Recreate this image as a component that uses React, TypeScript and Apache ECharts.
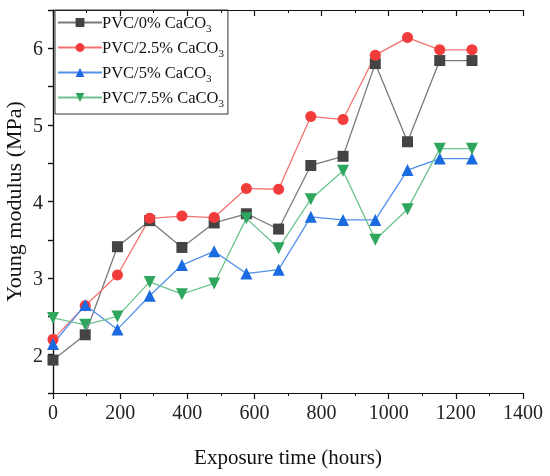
import React, { useEffect, useRef } from "react";
import * as echarts from "echarts";

const hours = [0, 96, 192, 288, 384, 480, 576, 672, 768, 864, 960, 1056, 1152, 1248];
const pvc0 = [1.93, 2.26, 3.41, 3.75, 3.4, 3.72, 3.84, 3.64, 4.47, 4.59, 5.8, 4.78, 5.84, 5.84];
const pvc25 = [2.2, 2.64, 3.04, 3.78, 3.81, 3.79, 4.17, 4.16, 5.11, 5.07, 5.91, 6.14, 5.98, 5.98];
const pvc5 = [2.14, 2.65, 2.33, 2.77, 3.17, 3.35, 3.06, 3.11, 3.8, 3.76, 3.76, 4.41, 4.56, 4.56];
const pvc75 = [2.48, 2.39, 2.5, 2.95, 2.79, 2.93, 3.78, 3.39, 4.03, 4.4, 3.5, 3.9, 4.69, 4.69];
const seriesNames = ["PVC/0% CaCO3", "PVC/2.5% CaCO3", "PVC/5% CaCO3", "PVC/7.5% CaCO3"];
const yTickLabels = [2, 3, 4, 5, 6];

const FONT = "Liberation Serif";

export default function App() {
  const ref = useRef<HTMLDivElement>(null);
  useEffect(() => {
    if (!ref.current) return;
    const chart = echarts.init(ref.current, undefined, { renderer: "svg" });
    const mk = (name: string, data: number[], symbol: string, rotate: number, mColor: string, lColor: string, size: number) => ({
      name,
      type: "line",
      data: hours.map((h, i) => [h, data[i]]),
      symbol,
      symbolRotate: rotate,
      symbolSize: size,
      itemStyle: { color: mColor },
      lineStyle: { color: lColor, width: 1.3 },
      emphasis: { disabled: true },
    });
    const axisLine = { show: true, lineStyle: { color: "#111", width: 1.2 } };
    chart.setOption({
      animation: false,
      grid: { left: 53, top: 10, right: 27, bottom: 83, containLabel: false, outerBoundsMode: "none" },
      legend: {
        orient: "vertical",
        left: 55,
        top: 10,
        borderColor: "#333",
        borderWidth: 1,
        padding: [4, 4, 6, 2],
        itemGap: 6,
        itemWidth: 44,
        itemHeight: 11,
        data: seriesNames,
        formatter: (n: string) => n.replace(/3$/, "") + "{sub|3}",
        textStyle: {
          fontFamily: FONT,
          fontSize: 16.5,
          color: "#111",
          padding: [0, 0, 0, -5],
          rich: { sub: { fontFamily: FONT, fontSize: 11, color: "#111", verticalAlign: "bottom", padding: [10, 0, 0, 0] } },
        },
      },
      xAxis: [
        {
          type: "value",
          min: 0,
          max: 1400,
          interval: 200,
          name: "Exposure time (hours)",
          nameLocation: "middle",
          nameGap: 53,
          nameTextStyle: { fontFamily: FONT, fontSize: 21, color: "#111" },
          axisLine,
          axisTick: { show: true, length: 6, lineStyle: { color: "#111", width: 1.2 } },
          minorTick: { show: true, splitNumber: 2, length: 3, lineStyle: { color: "#111", width: 1 } },
          axisLabel: { fontFamily: FONT, fontSize: 20, color: "#222", margin: 9, formatter: (v: number) => String(v) },
          splitLine: { show: false },
        },
        {
          type: "value",
          position: "top",
          min: 0,
          max: 1400,
          interval: 200,
          axisLine,
          axisTick: { show: true, inside: true, length: 6, lineStyle: { color: "#111", width: 1.2 } },
          minorTick: { show: true, splitNumber: 2, length: 3, lineStyle: { color: "#111", width: 1 } },
          axisLabel: { show: false },
          splitLine: { show: false },
        },
      ],
      yAxis: [
        {
          type: "value",
          min: 1.5,
          max: 6.5,
          interval: 0.5,
          name: "Young modulus (MPa)",
          nameLocation: "middle",
          nameGap: 29,
          nameMoveOverlap: false,
          nameTextStyle: { fontFamily: FONT, fontSize: 22, color: "#111" },
          axisLine,
          axisTick: { show: true, length: 5, lineStyle: { color: "#111", width: 1.2 } },
          axisLabel: {
            fontFamily: FONT,
            fontSize: 20,
            color: "#222",
            margin: 10,
            formatter: (v: number) => (yTickLabels.includes(v) ? String(v) : ""),
          },
          splitLine: { show: false },
        },
        {
          type: "value",
          position: "right",
          min: 1.5,
          max: 6.5,
          interval: 0.5,
          axisLine,
          axisTick: { show: true, inside: true, length: 5, lineStyle: { color: "#111", width: 1.2 } },
          axisLabel: { show: false },
          splitLine: { show: false },
        },
      ],
      series: [
        mk(seriesNames[0], pvc0, "rect", 0, "#444444", "#7a7a7a", 11),
        mk(seriesNames[1], pvc25, "circle", 0, "#f23c3c", "#f57272", 11),
        mk(seriesNames[2], pvc5, "triangle", 0, "#1a6ae0", "#5090ea", 12),
        mk(seriesNames[3], pvc75, "triangle", 180, "#2ea65e", "#6cc38e", 12),
      ],
    });
    return () => chart.dispose();
  }, []);
  return <div ref={ref} style={{ position: "fixed", left: 0, top: 0, width: 550, height: 476 }} />;
}
